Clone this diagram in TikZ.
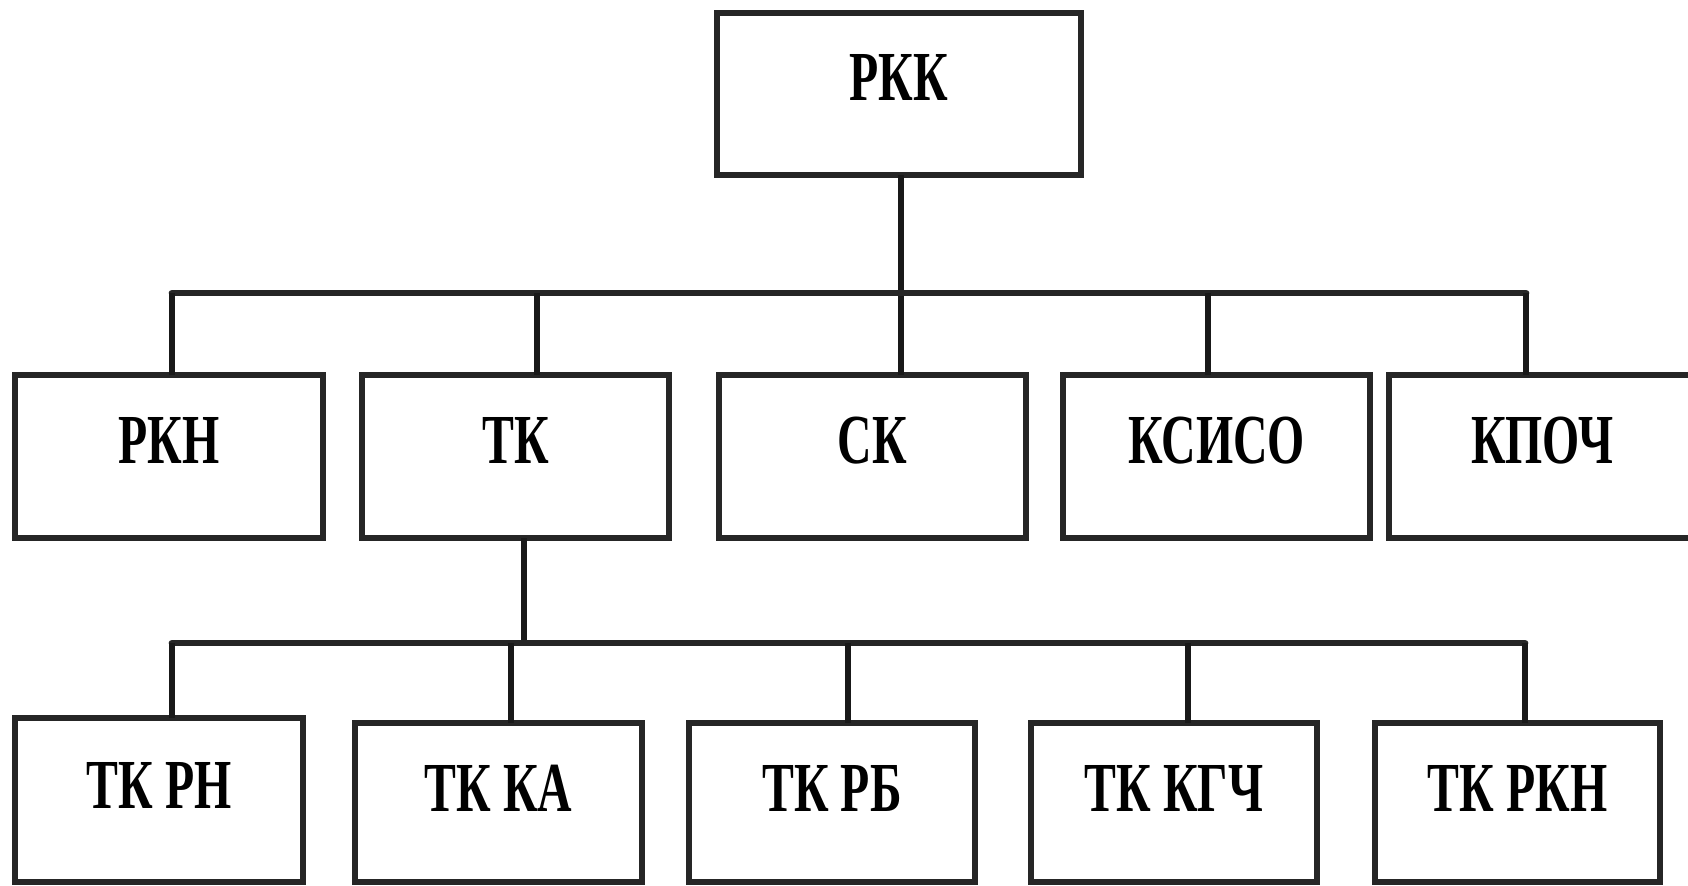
\documentclass[tikz,border=0pt]{standalone}
\usepackage{fontspec}
\newfontfamily\lblfont{Liberation Serif Bold}[FakeStretch=0.68]
\tikzset{
  box/.style={draw=black!85, line width=3.6pt, rectangle, inner sep=0pt, outer sep=0pt, fill=white},
  lbl/.style={anchor=base, inner sep=0pt, font=\lblfont\fontsize{40}{40}\selectfont},
  trunk/.style={draw=black!90, line width=3.7pt},
  bus/.style={draw=black!85, line width=3.8pt, line cap=round},
  drop/.style={draw=black!90, line width=3.1pt}
}
\begin{document}
\begin{tikzpicture}[x=0.02cm,y=-0.02cm]
\useasboundingbox (0,0) rectangle (1688,886);
\clip (0,0) rectangle (1688,886);
\fill[white] (0,0) rectangle (1688,886);
% level 1
\node[box, minimum width=364*0.02cm, minimum height=162*0.02cm] (rkk) at (899,94) {};
\node[lbl] (rkkt) at (899,100) {РКК};
% level 2
\node[box, minimum width=308*0.02cm, minimum height=163*0.02cm] (rkn) at (169,456.5) {};
\node[box, minimum width=307*0.02cm, minimum height=163*0.02cm] (tk) at (515.5,456.5) {};
\node[box, minimum width=307*0.02cm, minimum height=163*0.02cm] (sk) at (872.5,456.5) {};
\node[box, minimum width=307*0.02cm, minimum height=163*0.02cm] (ksiso) at (1216.5,456.5) {};
\node[box, minimum width=307*0.02cm, minimum height=163*0.02cm] (kpoch) at (1542.5,456.5) {};
\node[lbl] (rknt) at (169,463) {РКН};
\node[lbl] (tkt) at (515.5,463) {ТК};
\node[lbl] (skt) at (872.5,463) {СК};
\node[lbl] (ksisot) at (1216.5,463) {КСИСО};
\node[lbl] (kpocht) at (1542.5,463) {КПОЧ};
% level 3
\node[box, minimum width=288*0.02cm, minimum height=164*0.02cm] (tkrn) at (159,800) {};
\node[box, minimum width=287*0.02cm, minimum height=159*0.02cm] (tkka) at (498.5,802.5) {};
\node[box, minimum width=286*0.02cm, minimum height=159*0.02cm] (tkrb) at (832,802.5) {};
\node[box, minimum width=286*0.02cm, minimum height=159*0.02cm] (tkkgch) at (1174,802.5) {};
\node[box, minimum width=285*0.02cm, minimum height=159*0.02cm] (tkrkn) at (1517.5,802.5) {};
\node[lbl] (tkrnt) at (159,808) {ТК РН};
\node[lbl] (tkkat) at (498.5,811) {ТК КА};
\node[lbl] (tkrbt) at (832,811) {ТК РБ};
\node[lbl] (tkkgcht) at (1174,811) {ТК КГЧ};
\node[lbl] (tkrknt) at (1517.5,811) {ТК РКН};
% bus 1
\coordinate (b1l) at (172,293);
\coordinate (b1r) at (1526,293);
\coordinate (b1c) at (901,293);
\coordinate (d1a) at (172,293);
\coordinate (d1b) at (537,293);
\coordinate (d1d) at (1208,293);
\coordinate (d1e) at (1526,293);
\draw[trunk] (rkk.south -| b1c) -- (sk.north -| b1c);
\draw[bus] (b1l) -- (b1r);
\draw[drop] (d1a) -- (rkn.north -| d1a);
\draw[drop] (d1b) -- (tk.north -| d1b);
\draw[drop] (d1d) -- (ksiso.north -| d1d);
\draw[drop] (d1e) -- (kpoch.north -| d1e);
% bus 2
\coordinate (b2l) at (172,643);
\coordinate (b2r) at (1525,643);
\coordinate (b2c) at (524,643);
\coordinate (d2a) at (172,643);
\coordinate (d2b) at (511,643);
\coordinate (d2c) at (848,643);
\coordinate (d2d) at (1188,643);
\coordinate (d2e) at (1525,643);
\draw[trunk] (tk.south -| b2c) -- (b2c);
\draw[bus] (b2l) -- (b2r);
\draw[drop] (d2a) -- (tkrn.north -| d2a);
\draw[drop] (d2b) -- (tkka.north -| d2b);
\draw[drop] (d2c) -- (tkrb.north -| d2c);
\draw[drop] (d2d) -- (tkkgch.north -| d2d);
\draw[drop] (d2e) -- (tkrkn.north -| d2e);
\end{tikzpicture}
\end{document}
